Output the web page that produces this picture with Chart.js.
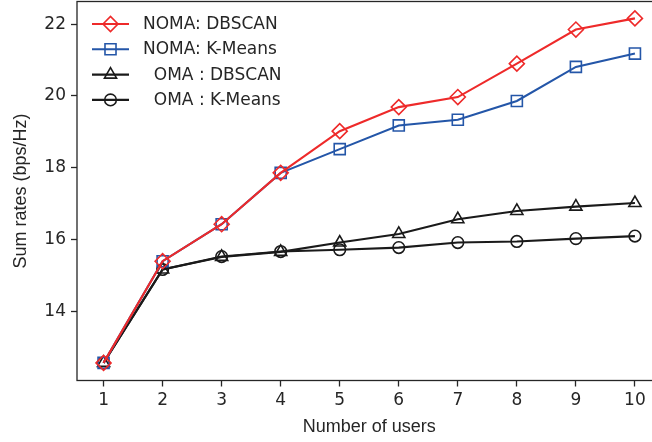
<!DOCTYPE html>
<html>
<head>
<meta charset="utf-8">
<script src="https://cdn.jsdelivr.net/npm/chart.js@4.4.1/dist/chart.umd.min.js"></script>
<style>
  html, body { margin: 0; padding: 0; background: #fff; overflow: hidden; width: 652px; height: 442px; }
  #wrap { position: relative; width: 665px; height: 442px; }
</style>
</head>
<body>
<div id="wrap"><canvas id="c" width="665" height="442" style="width:665px;height:442px"></canvas></div>
<script>
// Sum rate vs. number of users for the four schemes
const users = [1, 2, 3, 4, 5, 6, 7, 8, 9, 10];
const nomaDbscan = [12.57, 15.40, 16.43, 17.86, 19.02, 19.69, 19.97, 20.90, 21.85, 22.16];
const nomaKmeans = [12.57, 15.40, 16.43, 17.86, 18.52, 19.18, 19.34, 19.86, 20.81, 21.18];
const omaDbscan  = [12.57, 15.17, 15.52, 15.66, 15.92, 16.16, 16.57, 16.80, 16.92, 17.02];
const omaKmeans  = [12.57, 15.17, 15.53, 15.67, 15.72, 15.78, 15.92, 15.95, 16.03, 16.10];
const xTicks = [1, 2, 3, 4, 5, 6, 7, 8, 9, 10];
const yTicks = [14, 16, 18, 20, 22];
const seriesLabels = ['NOMA: DBSCAN', 'NOMA: K-Means', '  OMA : DBSCAN', '  OMA : K-Means'];

const INK = '#262626';
const RED = '#ee2a2a';
const BLUE = '#2456a8';
const BLACK = '#1a1a1a';

const toPoints = vals => users.map((u, i) => ({ x: u, y: vals[i] }));

function series(label, vals, color, style, radius) {
  return {
    label,
    data: toPoints(vals),
    borderColor: color,
    backgroundColor: color,
    borderWidth: 2.1,
    tension: 0,
    pointStyle: style,
    pointRadius: radius,
    pointHoverRadius: radius,
    pointBorderWidth: 1.6,
    pointBorderColor: color,
    pointBackgroundColor: 'rgba(0,0,0,0)',
    fill: false
  };
}

// Axes frame and in-plot legend (line + marker + text)
const frameLegend = {
  id: 'frameLegend',
  afterDraw(chart) {
    const { ctx, chartArea: a } = chart;
    ctx.save();
    ctx.strokeStyle = INK;
    ctx.lineWidth = 1.3;
    ctx.strokeRect(a.left, a.top, a.right - a.left, a.bottom - a.top);

    ctx.font = '17px "DejaVu Sans"';
    ctx.textBaseline = 'middle';
    ctx.textAlign = 'left';
    chart.data.datasets.forEach((ds, i) => {
      const y = a.top + 22.5 + i * 25.3;
      const x0 = a.left + 15, x1 = a.left + 52, xm = (x0 + x1) / 2;
      ctx.strokeStyle = ds.borderColor;
      ctx.lineWidth = 2.1;
      ctx.beginPath();
      ctx.moveTo(x0, y);
      ctx.lineTo(x1, y);
      ctx.stroke();
      ctx.fillStyle = 'rgba(0,0,0,0)';
      ctx.lineWidth = ds.pointBorderWidth;
      Chart.helpers.drawPoint(ctx, {
        pointStyle: ds.pointStyle, rotation: 0,
        radius: ds.pointRadius, borderWidth: ds.pointBorderWidth
      }, xm, y);
      ctx.fillStyle = INK;
      ctx.fillText(ds.label, a.left + 66, y + 0.5);
    });
    ctx.restore();
  }
};

new Chart(document.getElementById('c'), {
  type: 'line',
  data: {
    datasets: [
      series(seriesLabels[0], nomaDbscan, RED, 'rectRot', 7.5),
      series(seriesLabels[1], nomaKmeans, BLUE, 'rect', 7.8),
      series(seriesLabels[2], omaDbscan, BLACK, 'triangle', 7),
      series(seriesLabels[3], omaKmeans, BLACK, 'circle', 5.8)
    ]
  },
  options: {
    responsive: false,
    animation: false,
    devicePixelRatio: 1,
    events: [],
    layout: { autoPadding: false, padding: { top: 1.5, right: 3.5, left: 0, bottom: 0 } },
    plugins: { legend: { display: false }, tooltip: { enabled: false } },
    scales: {
      x: {
        type: 'linear',
        min: 0.55,
        max: 10.45,
        afterBuildTicks: s => { s.ticks = xTicks.map(v => ({ value: v })); },
        afterFit: s => { s.height = 61.5; s.paddingLeft = 0; s.paddingRight = 0; },
        grid: { drawOnChartArea: false, drawTicks: true, tickLength: 6, tickColor: INK, tickWidth: 1.3 },
        border: { display: false },
        ticks: {
          font: { family: 'DejaVu Sans', size: 17 },
          color: INK,
          padding: 4,
          maxRotation: 0,
          callback: v => String(v)
        },
        title: {
          display: true,
          text: 'Number of users',
          font: { family: 'Liberation Sans', size: 18 },
          color: INK,
          padding: { top: 0, bottom: 4 }
        }
      },
      y: {
        type: 'linear',
        min: 12.08,
        max: 22.63,
        afterBuildTicks: s => { s.ticks = yTicks.map(v => ({ value: v })); },
        afterFit: s => { s.width = 77; s.paddingTop = 0; s.paddingBottom = 0; },
        grid: { drawOnChartArea: false, drawTicks: true, tickLength: 6, tickColor: INK, tickWidth: 1.3 },
        border: { display: false },
        ticks: {
          font: { family: 'DejaVu Sans', size: 17 },
          color: INK,
          padding: 5,
          callback: v => String(v)
        },
        title: {
          display: true,
          text: 'Sum rates (bps/Hz)',
          font: { family: 'Liberation Sans', size: 18 },
          color: INK,
          padding: { top: 10, bottom: 0 }
        }
      }
    }
  },
  plugins: [frameLegend]
});
</script>
</body>
</html>
